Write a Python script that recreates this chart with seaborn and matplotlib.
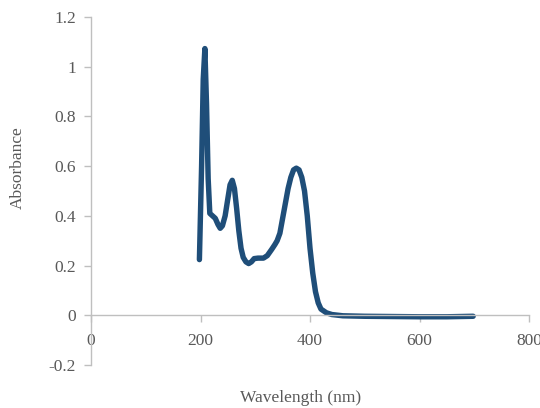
import matplotlib
matplotlib.use("Agg")
import matplotlib.pyplot as plt
import seaborn as sns
import pandas as pd

wavelength = [198, 202, 205, 208, 211, 214, 217, 222, 227, 232, 236, 240, 245, 250, 254, 258,
              262, 266, 270, 274, 278, 283, 288, 293, 298, 305, 315, 322, 330, 336, 340, 345,
              350, 355, 360, 365, 370, 375, 380, 385, 390, 395, 400, 405, 410, 415, 420, 430,
              440, 460, 500, 550, 600, 650, 698]
absorbance = [0.224, 0.60, 0.95, 1.073, 0.85, 0.55, 0.41, 0.40, 0.39, 0.365, 0.35, 0.36, 0.40,
              0.47, 0.525, 0.543, 0.51, 0.43, 0.34, 0.27, 0.233, 0.215, 0.208, 0.215, 0.228,
              0.23, 0.23, 0.24, 0.265, 0.285, 0.30, 0.33, 0.39, 0.45, 0.51, 0.555, 0.585, 0.592,
              0.585, 0.555, 0.50, 0.40, 0.27, 0.17, 0.095, 0.05, 0.025, 0.01, 0.003, -0.002,
              -0.004, -0.005, -0.006, -0.006, -0.004]
xticks = [0, 200, 400, 600, 800]
yticks = [-0.2, 0, 0.2, 0.4, 0.6, 0.8, 1, 1.2]
ytick_labels = ["-0.2", "0", "0.2", "0.4", "0.6", "0.8", "1", "1.2"]

df = pd.DataFrame({"Wavelength": wavelength, "Absorbance": absorbance})

sns.set_style("white")
plt.rcParams["font.family"] = ["Liberation Serif", "DejaVu Serif"]

fig = plt.figure(figsize=(5.4, 4.08), dpi=100)
ax = fig.add_axes([91/540, 1 - 365/408, (529 - 91)/540, (365 - 17)/408])

sns.lineplot(data=df, x="Wavelength", y="Absorbance", ax=ax, color="#1F4E79",
             linewidth=3.9, solid_capstyle="round", solid_joinstyle="round")

ax.set_xlim(0, 800)
ax.set_ylim(-0.2, 1.2)
ax.set_xticks(xticks)
ax.set_xticklabels([str(t) for t in xticks])
ax.set_yticks(yticks)
ax.set_yticklabels(ytick_labels)

grey_line = "#BFBFBF"
text_grey = "#595959"
for s in ["top", "right"]:
    ax.spines[s].set_visible(False)
ax.spines["left"].set_color(grey_line)
ax.spines["bottom"].set_color(grey_line)
ax.spines["bottom"].set_position(("data", 0))
ax.spines["left"].set_linewidth(1.0)
ax.spines["bottom"].set_linewidth(1.0)

ax.tick_params(axis="both", direction="out", length=5, width=1.0, color=grey_line,
               labelcolor=text_grey, labelsize=12.5)
ax.tick_params(axis="x", pad=8)
ax.tick_params(axis="y", pad=6, left=True)
ax.tick_params(axis="x", bottom=True)

ax.set_xlabel("")
ax.set_ylabel("")
fig.text(301/540, 1 - 398/408, "Wavelength (nm)", ha="center", va="center",
         fontsize=12.5, color=text_grey)
fig.text(18/540, 1 - 168/408, "Absorbance", ha="center", va="center",
         rotation=90, fontsize=12.5, color=text_grey)

fig.savefig("out.png", dpi=100)
